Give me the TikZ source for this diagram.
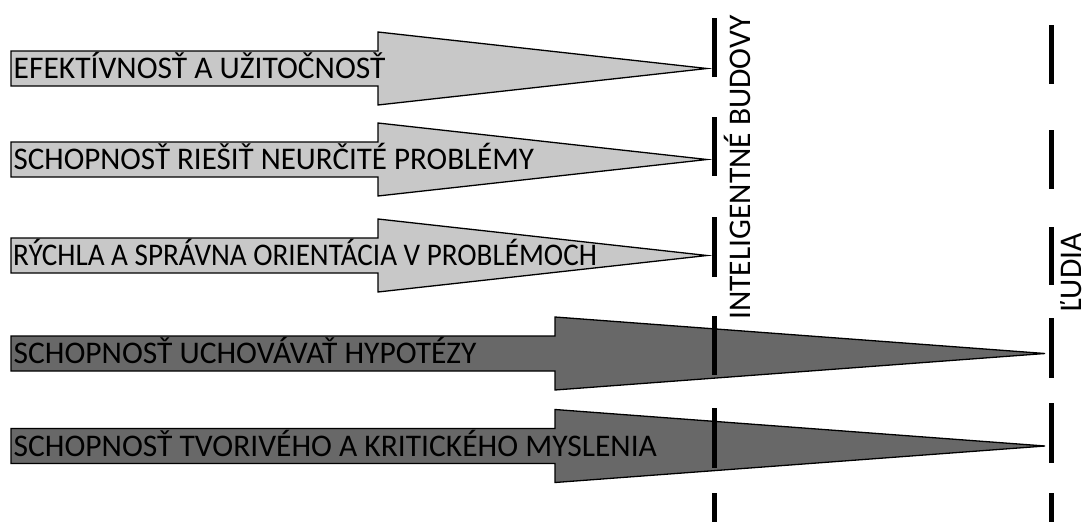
\documentclass[tikz,border=0pt]{standalone}
\usepackage{fontspec}
\setmainfont{Carlito}
\definecolor{lightfill}{RGB}{200,200,200}
\definecolor{darkfill}{RGB}{104,104,104}
% fat arrow: #1 centre y, #2 x of head base, #3 x of tip, #4 fill colour
\newcommand\fatarrow[4]{%
  \draw[outline,fill=#4] (11,#1-17.5) -- (#2,#1-17.5) -- (#2,#1-36.5) -- (#3,#1)
    -- (#2,#1+36.5) -- (#2,#1+17.5) -- (11,#1+17.5) -- cycle;}
\begin{document}
\begin{tikzpicture}[x=1pt,y=-1pt,
  outline/.style={draw=black,line width=1.3pt,line join=miter},
  lbl/.style={anchor=base west,inner sep=0pt,font=\fontsize{31.5}{36}\selectfont},
  vlbl/.style={anchor=base,inner sep=0pt,rotate=90,font=\fontsize{31.5}{36}\selectfont},
  bar/.style={line width=5pt}]
\useasboundingbox (0,0) rectangle (1087,522);

% arrows
\fatarrow{68.5}{378}{707}{lightfill}
\fatarrow{159.5}{378}{707}{lightfill}
\fatarrow{255.5}{378}{707}{lightfill}
\fatarrow{353.5}{555}{1045}{darkfill}
\fatarrow{446}{555}{1045}{darkfill}

% labels on the arrows
\node[lbl] (a1) at (13.5,78.5) {EFEKTÍVNOSŤ A UŽITOČNOSŤ};
\node[lbl] (a2) at (13.5,169.5) {\scalebox{0.985}[1]{SCHOPNOSŤ RIEŠIŤ NEURČITÉ PROBLÉMY}};
\node[lbl] (a3) at (13,265.5) {\scalebox{0.925}[1]{RÝCHLA A SPRÁVNA ORIENTÁCIA V PROBLÉMOCH}};
\node[lbl] (a4) at (13.5,363.5) {SCHOPNOSŤ UCHOVÁVAŤ HYPOTÉZY};
\node[lbl] (a5) at (13.5,456) {SCHOPNOSŤ TVORIVÉHO A KRITICKÉHO MYSLENIA};

% level labels
\node[vlbl] (bud) at (750,167.5) {INTELIGENTNÉ BUDOVY};
\node[vlbl] (lud) at (1081,273) {ĽUDIA};

% dashed level lines
\foreach \ya/\yb in {18/77,117/176,217/277,316/375,408/468,493/522}
  \draw[bar] (714.5,\ya) -- (714.5,\yb);
\foreach \ya/\yb in {25/84,130/189,227/285,318/378,403/463,493/522}
  \draw[bar] (1051,\ya) -- (1051,\yb);
\end{tikzpicture}
\end{document}
